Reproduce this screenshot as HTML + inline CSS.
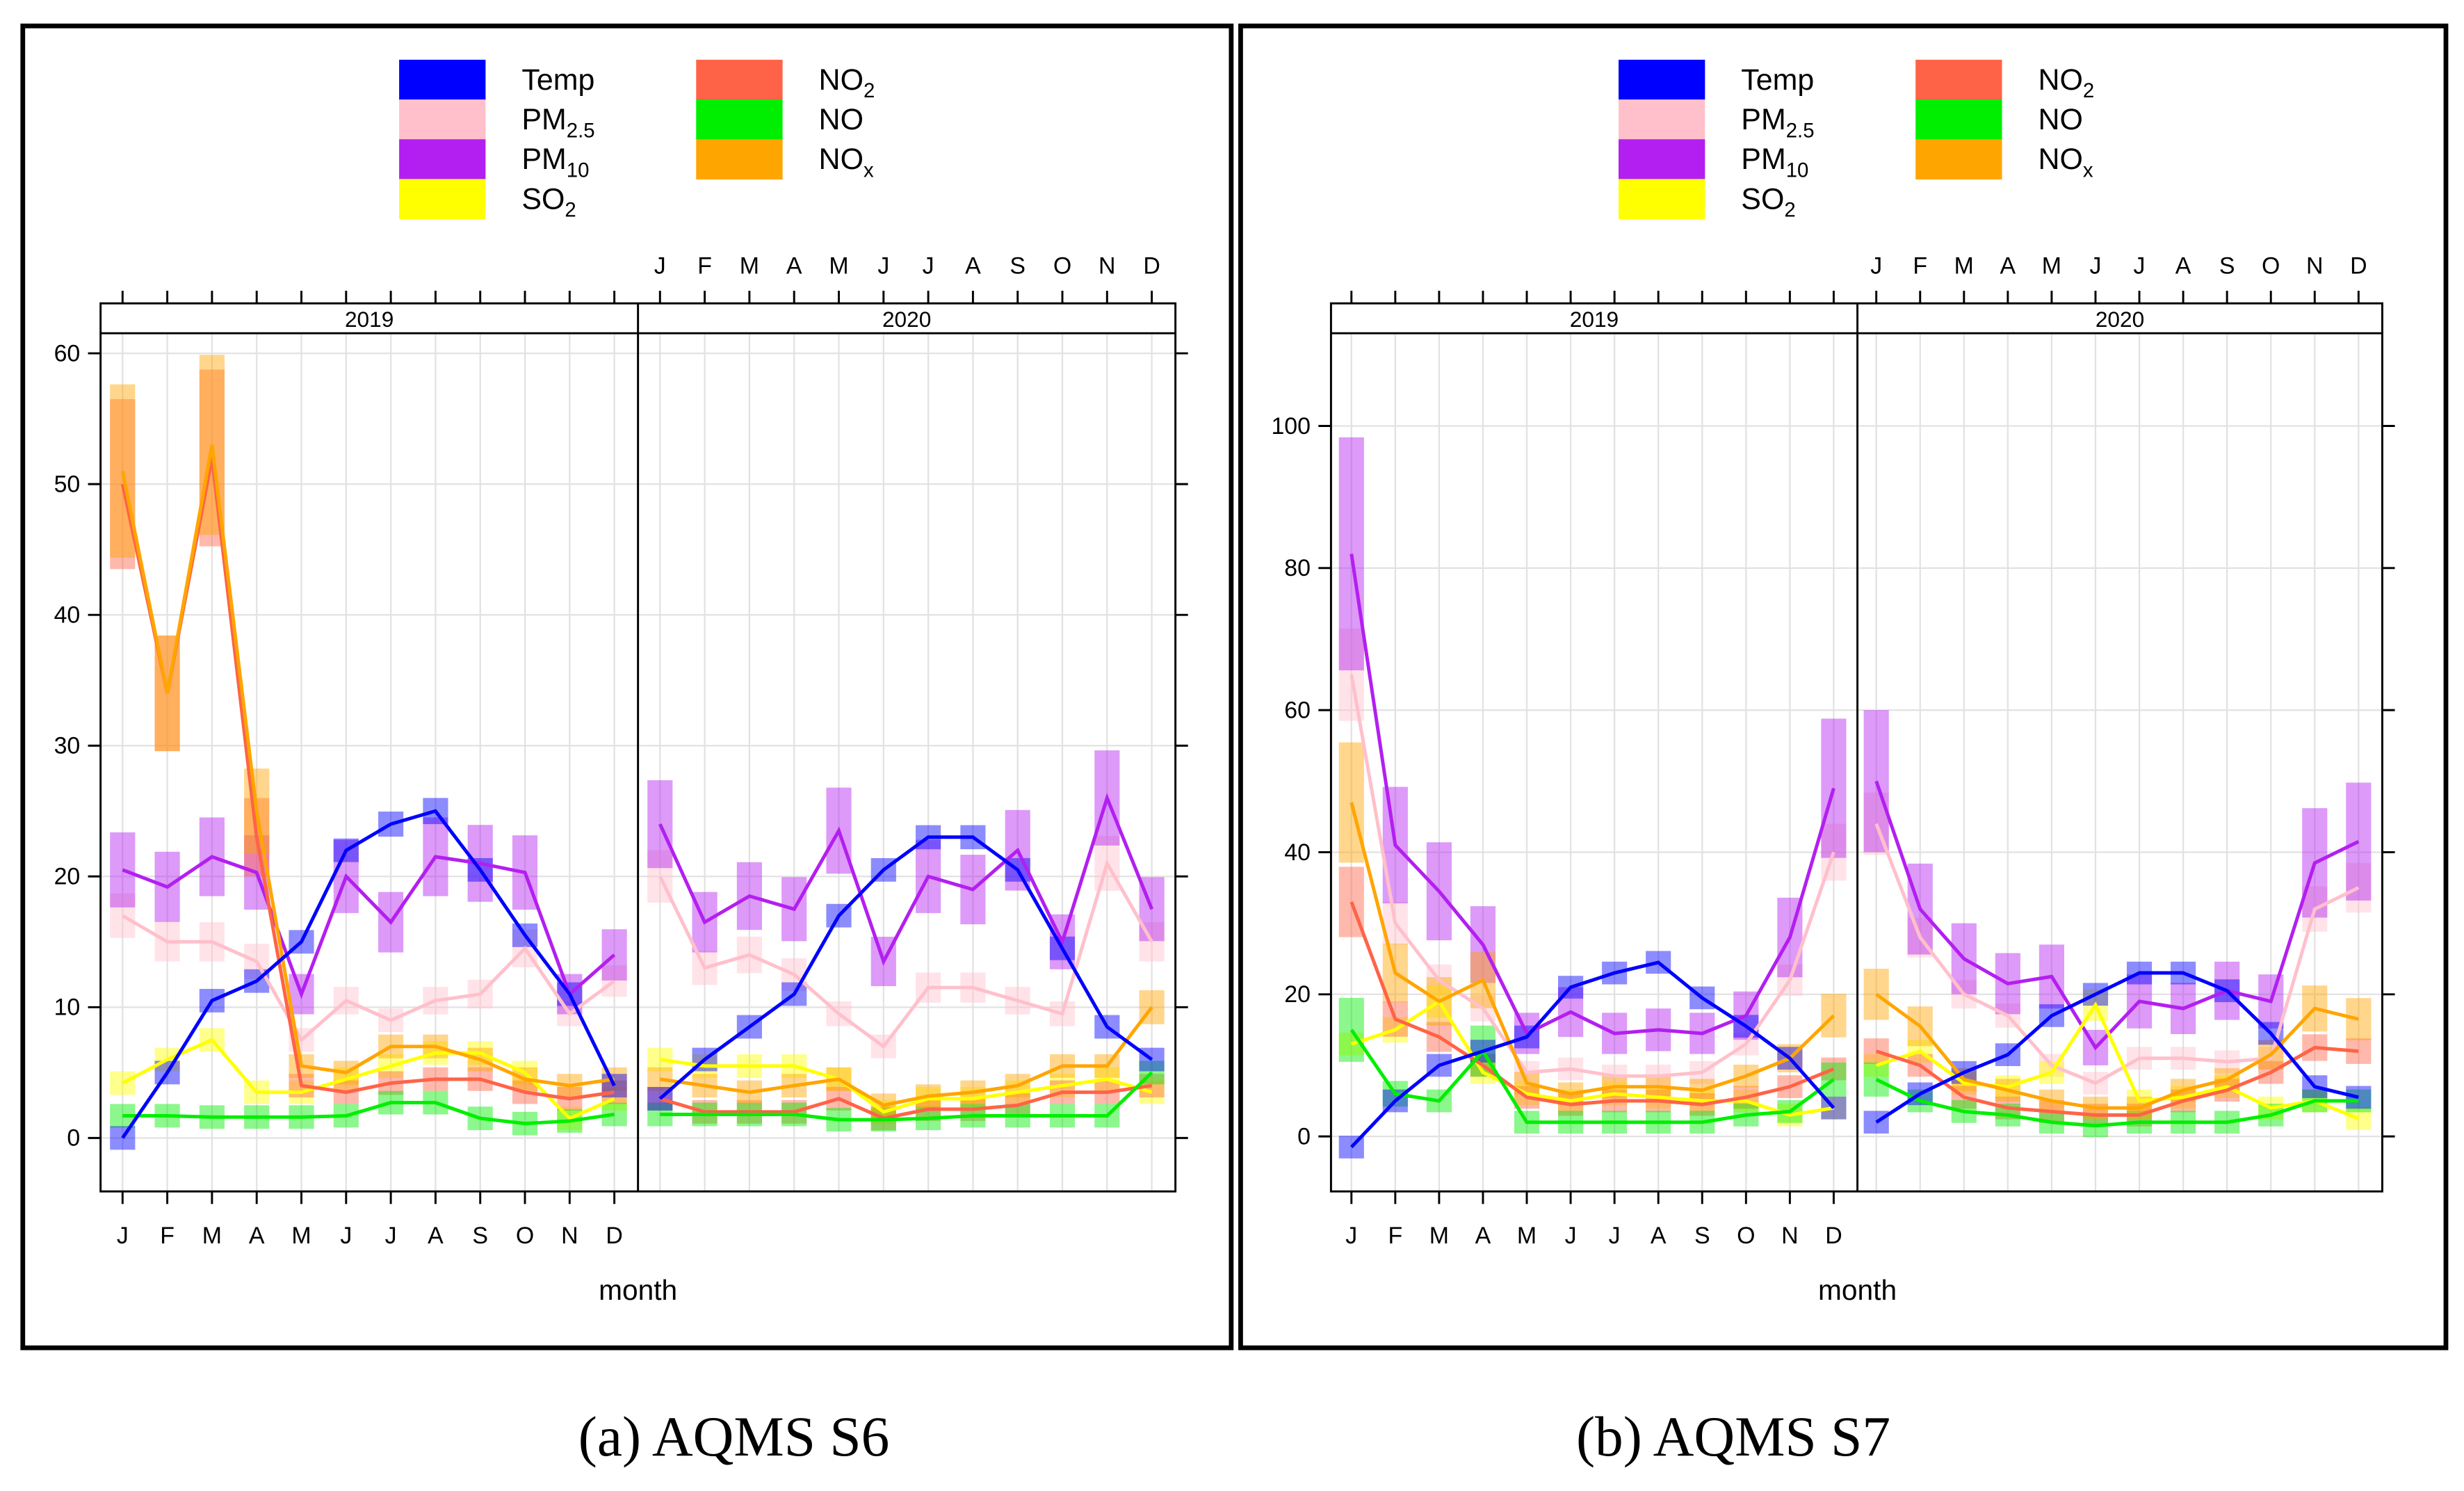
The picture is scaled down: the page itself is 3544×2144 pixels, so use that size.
<!DOCTYPE html>
<html><head><meta charset="utf-8"><style>
html,body{margin:0;padding:0;background:#fff}
svg{display:block}
text{font-family:"Liberation Sans Narrow","Liberation Sans",sans-serif;fill:#000}
.cap{font-family:"Liberation Serif",serif;font-size:36px}
</style></head><body>
<svg id="s" width="3544" height="2144" viewBox="0 0 1568 948.6" preserveAspectRatio="none" xmlns="http://www.w3.org/2000/svg">
<rect width="1568" height="948.6" fill="#fff"/>
<rect x="14.5" y="16.5" width="769" height="841" fill="none" stroke="#000" stroke-width="3"/>
<rect x="789.5" y="16.5" width="767" height="841" fill="none" stroke="#000" stroke-width="3"/>
<text class="cap" x="467" y="926" text-anchor="middle">(a) AQMS S6</text>
<text class="cap" x="1103" y="926" text-anchor="middle">(b) AQMS S7</text>
</svg>
<script>
const months=["J","F","M","A","M","J","J","A","S","O","N","D"];
const seriesNames=["PM2.5","PM10","SO2","NO2","NO","NOx","Temp"];
const seriesColors={"Temp":"#0000ff","PM2.5":"#ffc0cb","PM10":"#b31ff0","SO2":"#ffff00","NO2":"#ff6347","NO":"#00ee00","NOx":"#ffa500"};
// Panel A (S6) values, 24 months (2019 then 2020)
const aTemp=[0,5,10.5,12,15,22,24,25,20.5,15.5,11,4, 3,6,8.5,11,17,20.5,23,23,20.5,14.5,8.5,6];
const aPM10=[20.5,19.2,21.5,20.3,11,20,16.5,21.5,21,20.3,11,14, 24,16.5,18.5,17.5,23.5,13.5,20,19,22,15,26,17.5];
const aPM25=[17,15,15,13.5,7.5,10.5,9,10.5,11,14.5,9.5,12, 20,13,14,12.5,9.5,7,11.5,11.5,10.5,9.5,21,15];
const aSO2=[4.2,6,7.5,3.5,3.5,4.5,5.5,6.5,6.5,5,1.5,3, 6,5.5,5.5,5.5,4.5,2,3,3,3.5,4,4.5,3.5];
const aNO2=[50,34,52,23,4,3.5,4.2,4.5,4.5,3.5,3,3.5, 3,2,2,2,3,1.5,2.2,2.2,2.5,3.5,3.5,4];
const aNO=[1.7,1.7,1.6,1.6,1.6,1.7,2.7,2.7,1.5,1.1,1.3,1.8, 1.8,1.8,1.8,1.8,1.4,1.4,1.5,1.7,1.7,1.7,1.7,5];
const aNOx=[51,34,53,25,5.5,5,7,7,6,4.5,4,4.5, 4.5,4,3.5,4,4.5,2.5,3.2,3.5,4,5.5,5.5,10];
// Panel B (S7)
const bTemp=[-1.5,5,10,12,14,21,23,24.5,19.5,15.5,11,4, 2,6,9,11.5,17,20,23,23,20.5,14.5,7,5.5];
const bPM10=[82,41,34.5,27,14.5,17.5,14.5,15,14.5,17,28,49, 50,32,25,21.5,22.5,12.5,19,18,20.5,19,38.5,41.5];
const bPM25=[65,30,22,18,9,9.5,8.5,8.5,9,13,22,40, 44,28,20,17,10,7.5,11,11,10.5,11,32,35];
const bSO2=[13,15,19,9,6,5,6,5.5,5,5,3,4, 10,12,7.5,7,9,18.5,5,5.5,7,4,5,2.5];
const bNO2=[33,16.5,14,10,5.5,4.5,5,5,4.5,5.5,7,9.5, 12,10,5.5,4,3.5,3,3,5,6.5,9,12.5,12];
const bNO=[15,6,5,12,2,2,2,2,2,3,3.5,8, 8,5,3.5,3,2,1.5,2,2,2,3,5,5];
const bNOx=[47,23,19,22,7.5,6,7,7,6.5,8.5,11,17, 20,15.5,8,6.5,5,4,4,6.5,8,11.5,18,16.5];
// CI half-widths (relative) per series
const ciA={"Temp":0.04,"PM10":0.14,"PM2.5":0.1,"SO2":0.1,"NO2":0.13,"NO":0.12,"NOx":0.13};
const ciB={"Temp":0.04,"PM10":0.2,"PM2.5":0.1,"SO2":0.12,"NO2":0.15,"NO":0.3,"NOx":0.18};
const aTicks=[0,10,20,30,40,50,60];
const bTicks=[0,20,40,60,80,100];

const NS="http://www.w3.org/2000/svg";
const svg=document.getElementById('s');
function el(t,a,p){const e=document.createElementNS(NS,t);for(const k in a)e.setAttribute(k,a[k]);(p||svg).appendChild(e);return e;}

function panel(cfg){
  const g=el('g',{});
  
  
  const {x0,x1,xm,yTop,yStrip,yBot,v0y,vk,mJ,mStep,mJ2}=cfg;
  const yS=v=>v0y-v*vk;
  const xS=i=> i<12? mJ+i*mStep : mJ2+(i-12)*mStep;
  const leg=[["Temp",0,0],["PM2.5",0,1],["PM10",0,2],["SO2",0,3],["NO2",1,0],["NO",1,1],["NOx",1,2]];
  const labels={"Temp":["Temp",""],"PM2.5":["PM","2.5"],"PM10":["PM","10"],"SO2":["SO","2"],"NO2":["NO","2"],"NO":["NO",""],"NOx":["NO","x"]};
  leg.forEach(([n,c,r])=>{
    const bx=cfg.legX+c*189, by=38+r*25.3;
    const rr=el('rect',{x:bx,y:by,width:55,height:25.6,fill:seriesColors[n]},g);
    
    
    const t=el('text',{x:bx+78,y:by+19,'font-size':19},g);
    
    
    t.textContent=labels[n][0];
    if(labels[n][1]){const s=el('tspan',{'font-size':13,dy:5},t);s.textContent=labels[n][1];}
  });
  const ticks=cfg.ticks;
  ticks.forEach(v=>{el('line',{x1:x0,x2:x1,y1:yS(v),y2:yS(v),stroke:'#e2e2e2','stroke-width':1},g);});
  for(let i=0;i<24;i++){el('line',{x1:xS(i),x2:xS(i),y1:yStrip,y2:yBot,stroke:'#e2e2e2','stroke-width':1},g);}
  const data=cfg.data, ci=cfg.ci;
  seriesNames.forEach(n=>{
    const vals=data[n];
    for(let i=0;i<24;i++){
      const h=Math.max(Math.abs(vals[i])*ci[n],cfg.minH);
      const r=el('rect',{x:xS(i)-8,y:yS(vals[i]+h),width:16,height:yS(vals[i]-h)-yS(vals[i]+h),fill:seriesColors[n],'fill-opacity':0.45},g);
      
      
    }
  });
  seriesNames.forEach(n=>{
    const vals=data[n];
    [0,12].forEach(s=>{
      let d='';
      for(let i=s;i<s+12;i++) d+=(i===s?'M':'L')+xS(i).toFixed(1)+','+yS(vals[i]).toFixed(1);
      const p=el('path',{d:d,fill:'none',stroke:seriesColors[n],'stroke-width':2.2},g);
      
      
    });
  });
  el('rect',{x:x0,y:yTop,width:x1-x0,height:yBot-yTop,fill:'none',stroke:'#000','stroke-width':1.3},g);
  el('line',{x1:x0,x2:x1,y1:yStrip,y2:yStrip,stroke:'#000','stroke-width':1.3},g);
  el('line',{x1:xm,x2:xm,y1:yTop,y2:yBot,stroke:'#000','stroke-width':1.3},g);
  [['2019',(x0+xm)/2],['2020',(xm+x1)/2]].forEach(([t,x])=>{
    const tx=el('text',{x:x,y:yStrip-4,'font-size':14,'text-anchor':'middle'},g);
    
    
    tx.textContent=t;
  });
  ticks.forEach(v=>{
    el('line',{x1:x0-8,x2:x0,y1:yS(v),y2:yS(v),stroke:'#000','stroke-width':1.3},g);
    el('line',{x1:x1,x2:x1+8,y1:yS(v),y2:yS(v),stroke:'#000','stroke-width':1.3},g);
    const t=el('text',{x:x0-13,y:yS(v)+5,'font-size':15,'text-anchor':'end'},g);
    
    
    t.textContent=v;
  });
  for(let i=0;i<24;i++){
    el('line',{x1:xS(i),x2:xS(i),y1:yTop-8,y2:yTop,stroke:'#000','stroke-width':1.3},g);
    if(i<12){
      el('line',{x1:xS(i),x2:xS(i),y1:yBot,y2:yBot+8,stroke:'#000','stroke-width':1.3},g);
      const t=el('text',{x:xS(i),y:yBot+33,'font-size':15,'text-anchor':'middle'},g);
      
      
      t.textContent=months[i];
    } else {
      const t=el('text',{x:xS(i),y:yTop-19,'font-size':15,'text-anchor':'middle'},g);
      
      
      t.textContent=months[i-12];
    }
  }
  const mt=el('text',{x:xm,y:yBot+69,'font-size':18,'text-anchor':'middle'},g);
  
  
  mt.textContent='month';
}
panel({id:'chart-s6',x0:64,x1:748,xm:406,yTop:193,yStrip:212,yBot:758,v0y:724,vk:8.32,mJ:78,mStep:28.45,mJ2:420,legX:254,ticks:aTicks,ci:ciA,minH:0.9,
  data:{"Temp":aTemp,"PM10":aPM10,"PM2.5":aPM25,"SO2":aSO2,"NO2":aNO2,"NO":aNO,"NOx":aNOx}});
panel({id:'chart-s7',x0:847,x1:1516,xm:1182,yTop:193,yStrip:212,yBot:758,v0y:723,vk:4.52,mJ:860,mStep:27.9,mJ2:1194,legX:1030,ticks:bTicks,ci:ciB,minH:1.6,
  data:{"Temp":bTemp,"PM10":bPM10,"PM2.5":bPM25,"SO2":bSO2,"NO2":bNO2,"NO":bNO,"NOx":bNOx}});
</script>
</body></html>
